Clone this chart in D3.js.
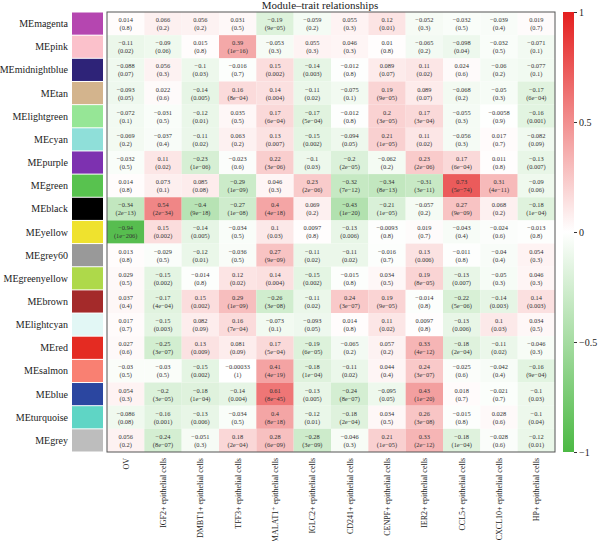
<!DOCTYPE html>
<html>
<head>
<meta charset="utf-8">
<script src="https://cdn.jsdelivr.net/npm/d3@7"></script>
<style>
  body { margin: 0; background: #fff; }
  text { font-family: "Liberation Serif", "DejaVu Serif", serif; }
</style>
</head>
<body>
<svg id="chart" width="600" height="541"></svg>
<script>
// modules (rows) and their colours
var modules = ["MEmagenta","MEpink","MEmidnightblue","MEtan","MElightgreen","MEcyan","MEpurple","MEgreen","MEblack","MEyellow","MEgrey60","MEgreenyellow","MEbrown","MElightcyan","MEred","MEsalmon","MEblue","MEturquoise","MEgrey"]
var moduleColors = ["#b546b0","#fbc1cb","#2e2378","#d3b48d","#96e696","#8fdfd9","#7d31b0","#58c24f","#000000","#efe22e","#999999","#aed94a","#a42a2a","#e2f7f5","#e42b22","#f98072","#2b46a0","#5fd5c5","#bdbdbd"]

// traits (columns)
var traits = ["OV","IGF2+ epithelial cells","DMBT1+ epithelial cells","TFF3+ epithelial cells","MALAT1\u207A epithelial cells","IGLC2+ epithelial cells","CD241+ epithelial cells","CENPF+ epithelial cells","IER2+ epithelial cells","CCL5+ epithelial cells","CXCL10+ epithelial cells","HP+ epithelial cells"]

// correlations, one row per module
var corr = [
  [0.014,0.066,0.056,0.031,-0.19,-0.059,0.055,0.12,-0.052,-0.032,-0.039,0.019],
  [-0.11,-0.09,0.015,0.39,-0.053,0.055,0.046,0.01,-0.065,-0.098,-0.032,-0.071],
  [-0.088,0.056,-0.1,-0.016,0.15,-0.14,-0.012,0.089,0.11,0.024,-0.06,-0.077],
  [-0.093,0.022,-0.14,0.16,0.14,-0.11,-0.075,0.19,0.089,-0.068,-0.05,-0.17],
  [-0.072,-0.031,-0.12,0.035,0.17,-0.17,-0.012,0.2,0.17,-0.055,-0.0058,-0.16],
  [-0.069,-0.037,-0.11,0.063,0.13,-0.15,-0.094,0.21,0.11,-0.056,0.017,-0.082],
  [-0.032,0.11,-0.23,-0.023,0.22,-0.1,-0.2,-0.062,0.23,0.17,0.011,-0.13],
  [0.014,0.073,0.085,-0.29,0.046,0.23,-0.32,-0.34,-0.31,0.73,0.31,-0.09],
  [-0.34,0.54,-0.4,-0.27,0.4,0.069,-0.43,-0.21,-0.057,0.27,0.068,-0.18],
  [-0.94,0.15,-0.14,-0.034,0.1,0.0097,-0.13,-0.0093,0.019,-0.043,-0.024,-0.013],
  [0.013,-0.029,-0.12,-0.036,0.27,-0.11,-0.11,-0.016,0.13,-0.011,-0.04,0.054],
  [0.029,-0.15,-0.014,0.12,0.14,-0.15,-0.015,0.034,0.19,-0.13,-0.05,0.046],
  [0.037,-0.17,0.15,0.29,-0.26,-0.11,0.24,0.19,-0.014,-0.22,-0.14,0.14],
  [0.017,-0.15,0.082,0.16,-0.073,-0.093,0.014,0.11,0.0097,-0.13,0.1,0.034],
  [0.027,-0.25,0.13,0.081,0.17,-0.19,-0.065,0.057,0.33,-0.18,-0.11,-0.046],
  [-0.03,-0.03,-0.15,-0.00033,0.41,-0.18,-0.11,0.044,0.24,-0.025,-0.042,-0.16],
  [0.054,-0.2,-0.18,-0.14,0.61,-0.13,-0.24,-0.095,0.43,0.018,-0.021,-0.1],
  [-0.086,-0.16,-0.13,-0.034,0.4,-0.12,-0.18,0.034,0.26,-0.015,0.028,-0.1],
  [0.056,-0.24,-0.051,0.18,0.28,-0.28,-0.046,0.21,0.33,-0.18,-0.028,-0.12]
]

// p-values as printed
var pvals = [
  ["0.8","0.2","0.2","0.5","9e-05","0.2","0.3","0.01","0.3","0.5","0.4","0.7"],
  ["0.02","0.06","0.8","1e-16","0.3","0.3","0.3","0.8","0.2","0.04","0.5","0.1"],
  ["0.07","0.3","0.03","0.7","0.002","0.003","0.8","0.07","0.02","0.6","0.2","0.1"],
  ["0.05","0.6","0.005","8e-04","0.004","0.02","0.1","9e-05","0.07","0.2","0.3","6e-04"],
  ["0.1","0.5","0.01","0.5","6e-04","5e-04","0.8","3e-05","3e-04","0.3","0.9","0.001"],
  ["0.2","0.4","0.02","0.2","0.007","0.002","0.05","1e-05","0.02","0.3","0.7","0.09"],
  ["0.5","0.02","1e-06","0.6","3e-06","0.03","2e-05","0.2","2e-06","6e-04","0.8","0.007"],
  ["0.8","0.1","0.08","1e-09","0.3","2e-06","7e-12","8e-13","3e-11","5e-74","4e-11","0.06"],
  ["2e-13","2e-34","9e-18","1e-08","4e-18","0.2","1e-20","1e-05","0.2","9e-09","0.2","1e-04"],
  ["1e-206","0.002","0.005","0.5","0.03","0.8","0.006","0.8","0.7","0.4","0.6","0.8"],
  ["0.8","0.5","0.01","0.5","9e-09","0.02","0.02","0.7","0.006","0.8","0.4","0.3"],
  ["0.5","0.002","0.8","0.02","0.004","0.002","0.8","0.5","8e-05","0.007","0.3","0.3"],
  ["0.4","4e-04","0.002","1e-09","3e-08","0.02","3e-07","9e-05","0.8","5e-06","0.003","0.003"],
  ["0.7","0.003","0.09","7e-04","0.1","0.05","0.8","0.02","0.8","0.006","0.03","0.5"],
  ["0.6","3e-07","0.009","0.09","5e-04","6e-05","0.2","0.2","4e-12","2e-04","0.02","0.3"],
  ["0.5","0.5","0.002","1","4e-19","1e-04","0.02","0.4","3e-07","0.6","0.4","9e-04"],
  ["0.3","3e-05","1e-04","0.004","8e-45","0.005","8e-07","0.05","1e-20","0.7","0.7","0.03"],
  ["0.08","0.001","0.006","0.5","8e-18","0.01","2e-04","0.5","3e-08","0.8","0.6","0.04"],
  ["0.2","8e-07","0.3","2e-04","6e-09","3e-09","0.3","1e-05","2e-12","1e-04","0.6","0.01"]
]

var legendTicks = [1, 0.5, 0, -0.5, -1]

var svg = d3.select("#chart")
var plotL = 107, plotR = 555, plotT = 12, plotB = 452

var x = d3.scaleBand().domain(traits).range([plotL, plotR])
var y = d3.scaleBand().domain(modules).range([plotT, plotB])
var color = d3.scaleLinear().domain([-1, 0, 1]).range(["#4cb944", "#ffffff", "#e41f1f"])

function minus(s) { return String(s).replace(/-/g, "\u2212") }

// title
svg.append("text").attr("x", 320).attr("y", 9).attr("text-anchor", "middle")
  .style("font-size", "11px").style("fill", "#222").text("Module\u2013trait relationships")

// cells
var cells = []
corr.forEach(function(row, i) {
  row.forEach(function(v, j) { cells.push({r: i, c: j, v: v, p: pvals[i][j]}) })
})

var cell = svg.selectAll(".cell").data(cells).enter().append("g").attr("class", "cell")
  .attr("transform", function(d) { return "translate(" + x(traits[d.c]) + "," + y(modules[d.r]) + ")" })

cell.append("rect")
  .attr("width", x.bandwidth()).attr("height", y.bandwidth())
  .attr("fill", function(d) { return color(d.v) })

cell.append("text").attr("x", x.bandwidth() / 2).attr("y", y.bandwidth() / 2 - 1.5)
  .attr("text-anchor", "middle").style("font-size", "6.4px").style("fill", "#333")
  .text(function(d) { return minus(d.v) })
cell.append("text").attr("x", x.bandwidth() / 2).attr("y", y.bandwidth() / 2 + 6.5)
  .attr("text-anchor", "middle").style("font-size", "6.4px").style("fill", "#333")
  .text(function(d) { return "(" + minus(d.p) + ")" })

// frame
svg.append("rect").attr("x", plotL).attr("y", plotT).attr("width", plotR - plotL).attr("height", plotB - plotT)
  .attr("fill", "none").attr("stroke", "#555").attr("stroke-width", 1)

// module colour swatches and names
svg.selectAll(".swatch").data(modules).enter().append("rect")
  .attr("x", 72).attr("y", function(d) { return y(d) + 0.5 })
  .attr("width", 31).attr("height", y.bandwidth() - 1)
  .attr("fill", function(d, i) { return moduleColors[i] })

svg.selectAll(".rowlab").data(modules).enter().append("text")
  .attr("x", 68).attr("y", function(d) { return y(d) + y.bandwidth() / 2 + 3.5 })
  .attr("text-anchor", "end").style("font-size", "10px").style("fill", "#222")
  .text(function(d) { return d })

// trait labels
svg.selectAll(".collab").data(traits).enter().append("text")
  .attr("transform", function(d) { return "translate(" + (x(d) + x.bandwidth() / 2 + 3) + "," + (plotB + 6) + ") rotate(-90)" })
  .attr("text-anchor", "end").style("font-size", "8px").style("fill", "#222")
  .text(function(d) { return d })

// colour bar
var barX = 563, barW = 11
var lg = svg.append("defs").append("linearGradient").attr("id", "grad")
  .attr("x1", "0%").attr("y1", "100%").attr("x2", "0%").attr("y2", "0%")
lg.selectAll("stop").data([-1, 0, 1]).enter().append("stop")
  .attr("offset", function(d) { return ((d + 1) / 2 * 100) + "%" })
  .attr("stop-color", function(d) { return color(d) })
svg.append("rect").attr("x", barX).attr("y", plotT).attr("width", barW).attr("height", plotB - plotT)
  .attr("fill", "url(#grad)")

var ly = d3.scaleLinear().domain([-1, 1]).range([plotB, plotT])
var axis = svg.append("g").attr("transform", "translate(" + (barX + barW) + ",0)")
  .call(d3.axisRight(ly).tickValues(legendTicks).tickSize(3).tickFormat(function(d) { return minus(d) }))
axis.select(".domain").remove()
axis.selectAll("line").attr("stroke", "#333")
axis.selectAll("text").style("font-size", "10px").style("font-family", "Liberation Serif").style("fill", "#222").attr("x", 5)
</script>
</body>
</html>
